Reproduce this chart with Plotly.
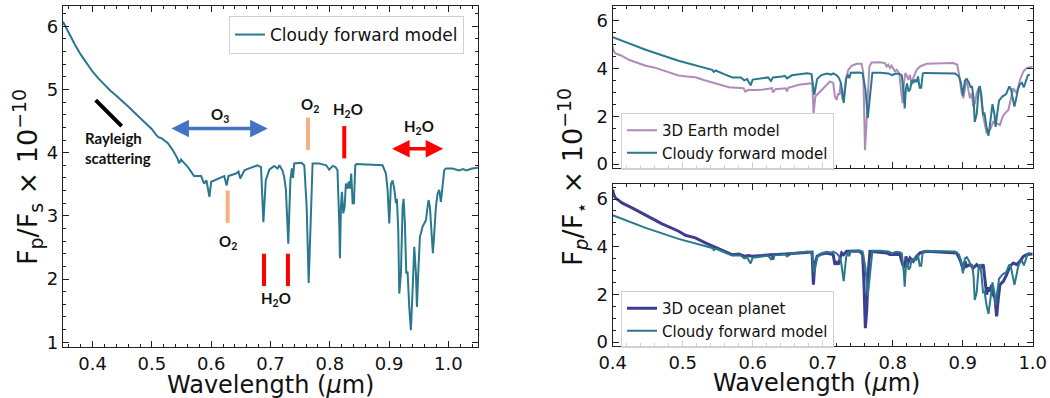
import plotly.graph_objects as go

# ---------------- data ----------------
# Left panel: cloudy forward model (wavelength in micron, Fp/Fs x 1e-10)
wl_cloudy = [0.350, 0.360, 0.370, 0.380, 0.390, 0.400, 0.410, 0.420, 0.430, 0.440,
             0.450, 0.460, 0.470, 0.480, 0.490, 0.500, 0.507, 0.512, 0.516, 0.521,
             0.527, 0.535, 0.543, 0.546, 0.549, 0.555, 0.560, 0.566, 0.571, 0.583,
             0.588, 0.592, 0.597, 0.600, 0.614, 0.622, 0.626, 0.629, 0.642, 0.646,
             0.649, 0.653, 0.656, 0.664, 0.678, 0.684, 0.688, 0.692, 0.698, 0.706,
             0.712, 0.715, 0.720, 0.723, 0.726, 0.730, 0.7335, 0.736, 0.738, 0.740,
             0.752, 0.757, 0.761, 0.7644, 0.768, 0.771, 0.782, 0.794, 0.799, 0.805,
             0.810, 0.813, 0.816, 0.8171, 0.8188, 0.8205, 0.8227, 0.825, 0.8272, 0.830,
             0.8317, 0.834, 0.8362, 0.8385, 0.8407, 0.843, 0.845, 0.889, 0.8947, 0.8975,
             0.9003, 0.9031, 0.9059, 0.9087, 0.9115, 0.9132, 0.9155, 0.9172, 0.920, 0.9228,
             0.9245, 0.9267, 0.929, 0.9312, 0.934, 0.9368, 0.9397, 0.9425, 0.9453, 0.947,
             0.9492, 0.952, 0.9537, 0.9565, 0.9593, 0.9621, 0.9649, 0.9666, 0.9689, 0.9722,
             0.9739, 0.9762, 0.979, 0.9818, 0.9846, 0.9874, 0.9902, 0.993, 0.996, 1.007,
             1.018, 1.025, 1.030, 1.040, 1.050]
fp_cloudy = [6.07, 5.88, 5.71, 5.55, 5.41, 5.28, 5.17, 5.07, 4.98, 4.90,
             4.82, 4.73, 4.64, 4.55, 4.46, 4.37, 4.28, 4.24, 4.23, 4.19,
             4.15, 4.04, 3.91, 3.83, 3.89, 3.83, 3.78, 3.70, 3.63, 3.63,
             3.51, 3.56, 3.30, 3.54, 3.59, 3.63, 3.48, 3.63, 3.67, 3.70,
             3.59, 3.67, 3.72, 3.75, 3.80, 3.77, 2.90, 3.56, 3.73, 3.79,
             3.75, 3.80, 3.72, 3.62, 3.41, 2.56, 3.56, 3.75, 3.60, 3.83,
             3.84, 3.80, 3.14, 1.94, 3.14, 3.83, 3.83, 3.80, 3.73, 3.79,
             3.77, 3.72, 2.88, 2.33, 3.14, 3.38, 3.04, 3.14, 3.51, 3.43,
             3.54, 3.43, 3.67, 3.20, 3.20, 3.80, 3.82, 3.80, 3.67, 3.41,
             2.88, 3.50, 3.56, 3.43, 3.20, 3.27, 2.77, 1.77, 2.09, 3.14,
             3.27, 2.88, 2.09, 2.12, 1.56, 1.19, 1.83, 2.51, 2.09, 1.56,
             2.09, 2.67, 2.72, 2.83, 2.88, 2.93, 3.14, 3.25, 3.14, 2.62,
             2.41, 2.72, 3.14, 3.35, 3.41, 3.22, 3.51, 3.72, 3.75, 3.75,
             3.72, 3.74, 3.72, 3.75, 3.76]

# Right panels: cloudy model short-wavelength part (coarser sampling there)
wl_cloudy_blue = [0.400, 0.447, 0.494, 0.520, 0.542, 0.5445, 0.547, 0.560, 0.570]
fp_cloudy_blue = [5.32, 4.79, 4.33, 4.12, 3.95, 3.86, 3.92, 3.76, 3.64]

# 3D Earth model
wl_earth = [0.400, 0.402, 0.405, 0.412, 0.423, 0.435, 0.447, 0.459, 0.470, 0.482,
            0.494, 0.506, 0.518, 0.530, 0.542, 0.554, 0.566, 0.576, 0.587, 0.5895,
            0.594, 0.602, 0.613, 0.6276, 0.629, 0.6324, 0.647, 0.649, 0.651, 0.666,
            0.685, 0.687, 0.6895, 0.694, 0.700, 0.7056, 0.7104, 0.715, 0.7175, 0.7199,
            0.7223, 0.724, 0.7256, 0.7285, 0.7305, 0.7333, 0.7366, 0.7414, 0.7485, 0.7556,
            0.758, 0.7594, 0.7604, 0.7618, 0.7637, 0.7666, 0.7699, 0.7818, 0.7889, 0.7913,
            0.7937, 0.7961, 0.7985, 0.8032, 0.8056, 0.8094, 0.8113, 0.8142, 0.8161, 0.818,
            0.820, 0.8223, 0.8247, 0.8271, 0.8294, 0.8342, 0.839, 0.8485, 0.8866, 0.8923,
            0.8952, 0.8985, 0.9009, 0.9032, 0.9056, 0.908, 0.9104, 0.9128, 0.9151, 0.9175,
            0.9199, 0.9237, 0.9261, 0.9294, 0.9342, 0.939, 0.9437, 0.9485, 0.9532, 0.957,
            0.9604, 0.9652, 0.970, 0.9723, 0.9771, 0.9818, 0.9866, 0.9913, 1.000]
fp_earth = [4.93, 4.70, 4.62, 4.55, 4.37, 4.25, 4.12, 4.05, 3.95, 3.83,
            3.71, 3.67, 3.64, 3.52, 3.42, 3.32, 3.22, 3.20, 3.18, 3.04,
            3.11, 3.10, 3.11, 3.18, 3.00, 3.14, 3.18, 3.05, 3.20, 3.32,
            3.39, 2.13, 2.83, 2.97, 3.15, 3.36, 3.46, 3.40, 2.83, 2.69,
            2.97, 2.90, 3.39, 2.69, 2.90, 3.60, 3.95, 4.12, 4.20, 4.20,
            3.81, 1.99, 0.59, 1.29, 2.69, 4.09, 4.26, 4.27, 4.23, 4.09,
            4.16, 4.02, 4.12, 3.88, 3.95, 3.81, 3.25, 2.55, 3.39, 3.81,
            3.72, 3.53, 3.74, 3.32, 3.60, 3.95, 4.09, 4.20, 4.23, 4.16,
            3.67, 2.97, 2.76, 3.25, 3.60, 3.11, 2.76, 2.97, 2.41, 2.55,
            2.97, 3.25, 2.83, 1.99, 1.29, 1.43, 1.78, 1.71, 1.64, 1.99,
            2.13, 2.27, 2.83, 3.18, 2.97, 3.53, 3.88, 4.02, 4.09]

# 3D ocean planet
wl_ocean = [0.400, 0.4014, 0.4038, 0.4133, 0.4276, 0.4467, 0.4585, 0.4705, 0.4824, 0.4943,
            0.5038, 0.5181, 0.5324, 0.5514, 0.5657, 0.5705, 0.580, 0.5895, 0.594, 0.599,
            0.6133, 0.6276, 0.6286, 0.630, 0.6467, 0.6657, 0.6848, 0.6867, 0.6886, 0.692,
            0.6961, 0.705, 0.715, 0.7175, 0.720, 0.7223, 0.7247, 0.7271, 0.730, 0.7342,
            0.7532, 0.7571, 0.759, 0.7609, 0.7628, 0.7652, 0.7675, 0.7913, 0.796, 0.8104,
            0.8142, 0.8175, 0.819, 0.8209, 0.8247, 0.8294, 0.8342, 0.839, 0.8485, 0.8913,
            0.8961, 0.9009, 0.9032, 0.9056, 0.9104, 0.9151, 0.9199, 0.9247, 0.9294, 0.9318,
            0.9342, 0.9366, 0.939, 0.9413, 0.9437, 0.9461, 0.9485, 0.9509, 0.9532, 0.958,
            0.9628, 0.9675, 0.9723, 0.9771, 0.9818, 0.9866, 0.9913, 1.000]
fp_ocean = [6.40, 6.19, 6.05, 5.84, 5.63, 5.35, 5.15, 4.96, 4.80, 4.65,
            4.48, 4.37, 4.16, 3.92, 3.74, 3.67, 3.70, 3.60, 3.63, 3.60,
            3.63, 3.67, 3.46, 3.67, 3.70, 3.74, 3.78, 2.41, 3.25, 3.60,
            3.67, 3.74, 3.67, 3.25, 3.39, 3.25, 3.46, 3.74, 3.67, 3.81,
            3.81, 3.67, 2.41, 0.59, 1.29, 2.97, 3.81, 3.74, 3.67, 3.67,
            3.25, 3.11, 3.60, 3.25, 3.53, 3.39, 3.60, 3.74, 3.81, 3.74,
            3.46, 3.04, 3.39, 3.18, 3.25, 3.11, 3.25, 3.11, 3.25, 2.55,
            1.99, 2.30, 2.13, 2.40, 1.99, 1.85, 1.08, 1.85, 2.41, 2.55,
            2.83, 3.18, 3.32, 3.25, 3.39, 3.60, 3.67, 3.70]

# right-panel cloudy curve: coarse blue part + model above 0.57 micron
wl_cloudy_r = wl_cloudy_blue + [w for w in wl_cloudy if 0.571 <= w <= 1.0]
fp_cloudy_r = fp_cloudy_blue + [f for w, f in zip(wl_cloudy, fp_cloudy) if 0.571 <= w <= 1.0]

# ---------------- style ----------------
C_CLOUDY = "#2a788e"
C_EARTH = "#b08bba"
C_OCEAN = "#3e3e8e"
FONT = "DejaVu Sans"
AX = "#222222"
W, H = 1050, 398

fig = go.Figure()

fig.add_trace(go.Scatter(x=wl_cloudy, y=fp_cloudy, mode="lines", name="Cloudy forward model",
                         line=dict(color=C_CLOUDY, width=2), xaxis="x", yaxis="y", legend="legend"))
fig.add_trace(go.Scatter(x=wl_earth, y=fp_earth, mode="lines", name="3D Earth model",
                         line=dict(color=C_EARTH, width=2), xaxis="x2", yaxis="y2", legend="legend2"))
fig.add_trace(go.Scatter(x=wl_cloudy_r, y=fp_cloudy_r, mode="lines", name="Cloudy forward model",
                         line=dict(color=C_CLOUDY, width=2), xaxis="x2", yaxis="y2", legend="legend2"))
fig.add_trace(go.Scatter(x=wl_ocean, y=fp_ocean, mode="lines", name="3D ocean planet",
                         line=dict(color=C_OCEAN, width=3), xaxis="x3", yaxis="y3", legend="legend3"))
fig.add_trace(go.Scatter(x=wl_cloudy_r, y=fp_cloudy_r, mode="lines", name="Cloudy forward model",
                         line=dict(color=C_CLOUDY, width=2), xaxis="x3", yaxis="y3", legend="legend3"))


def axis(domain, rng, dtick, minor, labels=True, anchor=None):
    d = dict(domain=domain, range=rng, dtick=dtick, tick0=0, ticks="inside", ticklen=6, tickwidth=1,
             tickcolor=AX, showline=True, linecolor=AX, linewidth=1.2, mirror="allticks",
             showgrid=False, zeroline=False, automargin=False, showticklabels=labels,
             tickfont=dict(family=FONT, size=18, color="#111"),
             minor=dict(dtick=minor, tick0=0, ticks="inside", ticklen=3, tickwidth=1, tickcolor=AX,
                        showgrid=False))
    if anchor:
        d["anchor"] = anchor
    return d


px = lambda v: v / W
py = lambda v: 1 - v / H

fig.update_layout(
    width=W, height=H, autosize=False,
    margin=dict(l=0, r=0, t=0, b=0),
    paper_bgcolor="white", plot_bgcolor="white",
    xaxis=axis([px(63), px(478)], [0.35, 1.05], 0.1, 0.02, anchor="y"),
    yaxis=axis([py(347), py(6)], [0.925, 6.32], 1, 0.2, anchor="x"),
    xaxis2=axis([px(612.7), px(1032.7)], [0.4, 1.0], 0.1, 0.02, labels=False, anchor="y2"),
    yaxis2=axis([py(168), py(6)], [-0.16, 6.62], 2, 0.5, anchor="x2"),
    xaxis3=axis([px(612.7), px(1032.7)], [0.4, 1.0], 0.1, 0.02, anchor="y3"),
    yaxis3=axis([py(346), py(184)], [-0.16, 6.63], 2, 0.5, anchor="x3"),
    showlegend=True,
)
fig.update_xaxes(tickformat=".1f")

leg_common = dict(bgcolor="rgba(255,255,255,0.8)", bordercolor="#d0d0d0", borderwidth=1,
                  xanchor="left", yanchor="top", itemwidth=30, tracegroupgap=0)
fig.update_layout(
    legend=dict(x=px(229), y=py(16), font=dict(family=FONT, size=17, color="#111"), **leg_common),
    legend2=dict(x=px(621), y=py(113), font=dict(family=FONT, size=15, color="#111"), **leg_common),
    legend3=dict(x=px(621), y=py(291), font=dict(family=FONT, size=15, color="#111"), **leg_common),
)

ann = []
# axis titles
ann.append(dict(xref="paper", yref="paper", x=px(270.5), y=py(385), text="Wavelength (<i>μ</i>m)",
                showarrow=False, xanchor="center", yanchor="middle",
                font=dict(family=FONT, size=24, color="#111")))
ann.append(dict(xref="paper", yref="paper", x=px(816), y=py(383), text="Wavelength (<i>μ</i>m)",
                showarrow=False, xanchor="center", yanchor="middle",
                font=dict(family=FONT, size=24, color="#111")))
ann.append(dict(xref="paper", yref="paper", x=px(27), y=py(177), textangle=-90,
                text="F<sub>p</sub>/F<sub>s</sub> × 10<sup>−10</sup>",
                showarrow=False, xanchor="center", yanchor="middle",
                font=dict(family=FONT, size=27, color="#111")))
ann.append(dict(xref="paper", yref="paper", x=px(572), y=py(177), textangle=-90,
                text="F<sub><i>p</i></sub>/F<sub>⋆</sub> × 10<sup>−10</sup>",
                showarrow=False, xanchor="center", yanchor="middle",
                font=dict(family=FONT, size=27, color="#111")))

# species labels in the left panel
LBL = dict(family="Lato", size=15, color="#111")
labels = [
    (0.6148, 4.59, "<b>O<sub>3</sub></b>"),
    (0.6277, 2.59, "<b>O<sub>2</sub></b>"),
    (0.7092, 1.69, "<b>H<sub>2</sub>O</b>"),
    (0.7665, 4.75, "<b>O<sub>2</sub></b>"),
    (0.8300, 4.67, "<b>H<sub>2</sub>O</b>"),
    (0.9508, 4.41, "<b>H<sub>2</sub>O</b>"),
]
for x, y, t in labels:
    ann.append(dict(xref="x", yref="y", x=x, y=y, text=t, showarrow=False,
                    xanchor="center", yanchor="middle", font=LBL))
ann.append(dict(xref="x", yref="y", x=0.3832, y=4.075, text="<b>Rayleigh<br>scattering</b>",
                showarrow=False, xanchor="left", yanchor="middle", align="left", font=LBL))

# double-headed arrows
for x0, x1, y, col in [(0.5304, 0.6952, 4.38, "#4472c4"), (0.9026, 0.9913, 4.06, "#ff0000")]:
    ann.append(dict(xref="x", yref="y", axref="x", ayref="y", x=x1, y=y, ax=x0, ay=y, text="",
                    showarrow=True, arrowhead=2, arrowside="end+start", arrowwidth=3.5,
                    arrowsize=1.0, arrowcolor=col))
fig.update_layout(annotations=ann)

# marker bars
bars = [
    (0.4051, 4.83, 0.4490, 4.42, "#000000"),
    (0.6277, 3.40, 0.6277, 2.89, "#f4b183"),
    (0.6890, 2.40, 0.6890, 1.89, "#ff0000"),
    (0.7294, 2.40, 0.7294, 1.89, "#ff0000"),
    (0.7632, 4.555, 0.7632, 4.04, "#f4b183"),
    (0.8244, 4.42, 0.8244, 3.91, "#ff0000"),
]
for x0, y0, x1, y1, col in bars:
    fig.add_shape(type="line", xref="x", yref="y", x0=x0, y0=y0, x1=x1, y1=y1,
                  line=dict(color=col, width=4))

fig.write_html("out.html", config={"displayModeBar": False},
               post_script="document.body.style.margin='0';document.body.style.padding='0';")
